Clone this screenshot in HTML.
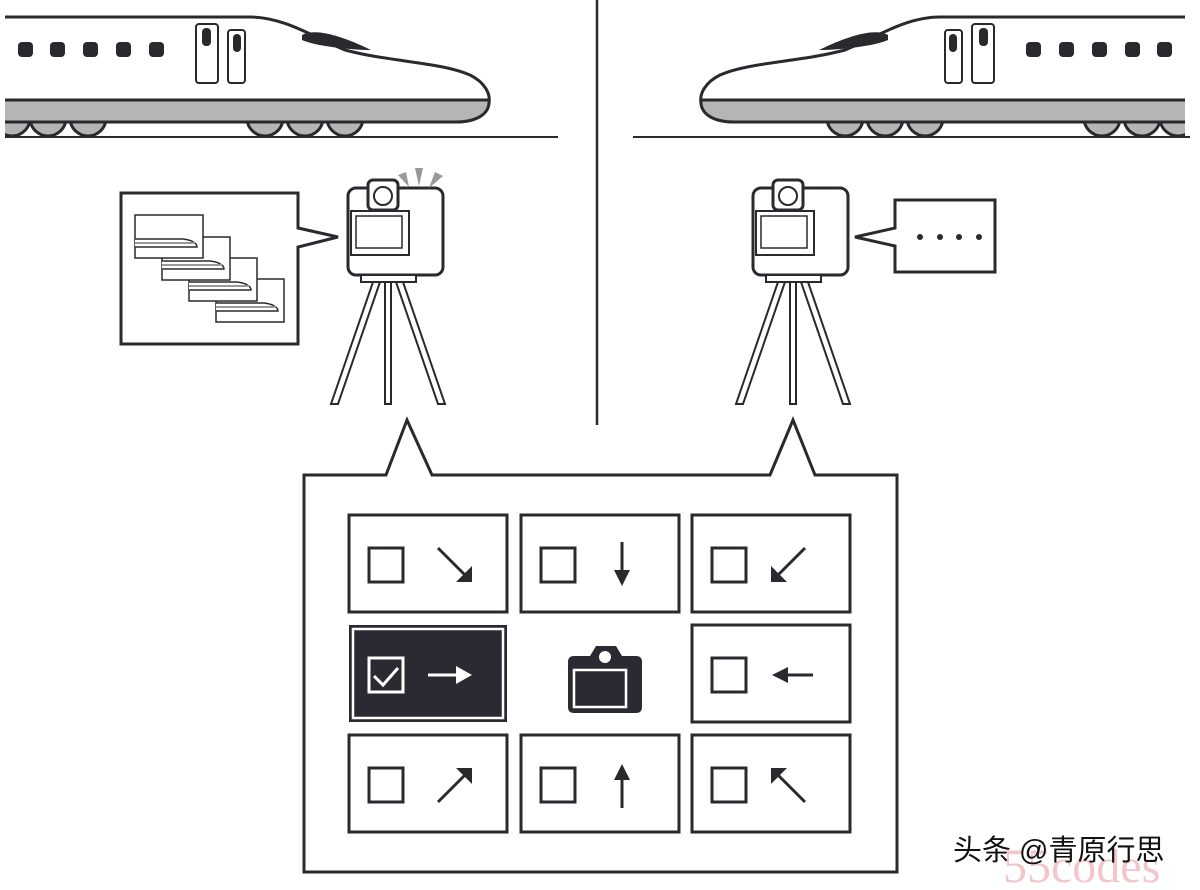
<!DOCTYPE html>
<html><head><meta charset="utf-8"><style>
html,body{margin:0;padding:0;background:#fff;}
svg{display:block;}
</style></head><body>
<svg width="1200" height="890" viewBox="0 0 1200 890" xmlns="http://www.w3.org/2000/svg">
<defs>
<clipPath id="tc"><rect x="5" y="0" width="600" height="150"/></clipPath>
<g id="train" clip-path="url(#tc)">
  <g fill="#b5b5b5" stroke="#2a2a2e" stroke-width="3">
    <circle cx="12" cy="118" r="18"/><circle cx="48" cy="118" r="18"/><circle cx="88" cy="118" r="18"/>
    <circle cx="265" cy="118" r="18"/><circle cx="305" cy="118" r="18"/><circle cx="345" cy="118" r="18"/>
  </g>
  <path d="M-20,17 L250,17 C285,17 315,38 345,50 C390,62 440,62 470,75 C500,90 495,122 455,122 L-20,122 Z" fill="#fff" stroke="#2a2a2e" stroke-width="3"/>
  <path d="M-20,100 L489,100 C490,112 480,122 455,122 L-20,122 Z" fill="#b5b5b5" stroke="#2a2a2e" stroke-width="3"/>
  <path d="M302,35 C315,28 340,35 371,50 C350,50 315,46 302,40 Z" fill="#2a2a2e"/>
  <g fill="#2a2a2e">
    <rect x="18" y="42" width="15" height="15" rx="4"/><rect x="50" y="42" width="15" height="15" rx="4"/>
    <rect x="83" y="42" width="15" height="15" rx="4"/><rect x="116" y="42" width="15" height="15" rx="4"/>
    <rect x="149" y="42" width="15" height="15" rx="4"/>
    <rect x="202" y="28" width="9" height="18" rx="4"/><rect x="233" y="34" width="8" height="18" rx="4"/>
  </g>
  <rect x="196" y="24" width="22" height="59" rx="3" fill="none" stroke="#2a2a2e" stroke-width="2"/>
  <rect x="228" y="30" width="17" height="53" rx="3" fill="none" stroke="#2a2a2e" stroke-width="2"/>
</g>
<g id="cam">
  <rect x="0" y="0" width="95" height="87" rx="8" fill="#fff" stroke="#2a2a2e" stroke-width="3"/>
  <rect x="20" y="-8" width="30" height="30" rx="5" fill="#fff" stroke="#2a2a2e" stroke-width="3"/>
  <circle cx="35" cy="8" r="9" fill="none" stroke="#2a2a2e" stroke-width="2"/>
  <rect x="3" y="23" width="58" height="44" fill="none" stroke="#2a2a2e" stroke-width="2"/>
  <rect x="8" y="28" width="46" height="32" fill="none" stroke="#2a2a2e" stroke-width="1.5"/>
  <rect x="13" y="87" width="55" height="7" fill="#fff" stroke="#2a2a2e" stroke-width="2"/>
</g>
<g id="tripod" fill="#fff" stroke="#2a2a2e" stroke-width="2">
  <polygon points="-15,0 -8,0 -50,122 -57,122"/>
  <polygon points="-3,0 3,0 3,122 -3,122"/>
  <polygon points="8,0 15,0 57,122 50,122"/>
</g>
<g id="mini" stroke="#2a2a2e" fill="#fff">
  <rect x="0" y="0" width="68" height="43" stroke-width="1.5"/>
  <path d="M0,24 L48,24 C58,25 62,29 62,32 L0,32" fill="#fff" stroke-width="1.5"/>
  <line x1="0" y1="28" x2="60" y2="28" stroke="#999" stroke-width="2"/>
</g>
</defs>

<use href="#train"/>
<use href="#train" transform="translate(1190,0) scale(-1,1)"/>
<line x1="5" y1="137" x2="558" y2="137" stroke="#2a2a2e" stroke-width="2"/>
<line x1="633" y1="137" x2="1190" y2="137" stroke="#2a2a2e" stroke-width="2"/>
<line x1="597" y1="0" x2="597" y2="425" stroke="#2a2a2e" stroke-width="2.5"/>

<use href="#tripod" transform="translate(388,282)"/>
<use href="#cam" transform="translate(348,188)"/>
<g fill="#999"><polygon points="398,175 406,172 409,187"/><polygon points="415,168 423,168 419,186"/><polygon points="435,172 443,176 429,188"/></g>
<path d="M121,193 L298,193 L298,228 L338,237 L298,247 L298,344 L121,344 Z" fill="#fff" stroke="#2a2a2e" stroke-width="3"/>
<use href="#mini" transform="translate(216,279)"/>
<use href="#mini" transform="translate(189,258)"/>
<use href="#mini" transform="translate(162,237)"/>
<use href="#mini" transform="translate(135,215)"/>

<use href="#tripod" transform="translate(793,282)"/>
<use href="#cam" transform="translate(753,188)"/>
<path d="M895,200 L995,200 L995,272 L895,272 L895,246 L855,237 L895,228 Z" fill="#fff" stroke="#2a2a2e" stroke-width="3"/>
<g fill="#2a2a2e"><circle cx="920" cy="237" r="3"/><circle cx="940" cy="237" r="3"/><circle cx="959" cy="237" r="3"/><circle cx="979" cy="237" r="3"/></g>

<path d="M304,475 L386,475 L407,420 L432,475 L770,475 L793,420 L815,475 L897,475 L897,872 L304,872 Z" fill="#fff" stroke="#2a2a2e" stroke-width="3"/>

<g fill="none" stroke="#2a2a2e" stroke-width="3">
  <rect x="349" y="515" width="158" height="97"/><rect x="521" y="515" width="158" height="97"/><rect x="692" y="515" width="158" height="97"/>
  <rect x="692" y="625" width="158" height="97"/>
  <rect x="349" y="735" width="158" height="97"/><rect x="521" y="735" width="158" height="97"/><rect x="692" y="735" width="158" height="97"/>
  <rect x="369" y="548" width="34" height="34"/><rect x="541" y="548" width="34" height="34"/><rect x="712" y="548" width="34" height="34"/>
  <rect x="712" y="658" width="34" height="34"/>
  <rect x="369" y="768" width="34" height="34"/><rect x="541" y="768" width="34" height="34"/><rect x="712" y="768" width="34" height="34"/>
</g>
<g stroke="#2a2a2e" stroke-width="3" fill="#2a2a2e">
  <line x1="438" y1="548" x2="466" y2="576"/><polygon points="472,582 472,566 456,582" stroke="none"/>
  <line x1="622" y1="542" x2="622" y2="572"/><polygon points="622,586 614,570 630,570" stroke="none"/>
  <line x1="805" y1="548" x2="777" y2="576"/><polygon points="771,582 787,582 771,566" stroke="none"/>
  <line x1="813" y1="675" x2="785" y2="675"/><polygon points="772,675 788,667 788,683" stroke="none"/>
  <line x1="438" y1="802" x2="466" y2="774"/><polygon points="472,768 456,768 472,784" stroke="none"/>
  <line x1="622" y1="808" x2="622" y2="778"/><polygon points="622,764 614,780 630,780" stroke="none"/>
  <line x1="805" y1="802" x2="777" y2="774"/><polygon points="771,768 771,784 787,768" stroke="none"/>
</g>
<rect x="349" y="625" width="158" height="97" fill="#2a2a33"/>
<rect x="353" y="629" width="150" height="89" fill="none" stroke="#fff" stroke-width="2.5"/>
<rect x="369" y="658" width="34" height="34" fill="none" stroke="#fff" stroke-width="3"/>
<polyline points="374,676 383,685 398,668" fill="none" stroke="#fff" stroke-width="3"/>
<line x1="428" y1="675" x2="458" y2="675" stroke="#fff" stroke-width="3"/>
<polygon points="472,675 456,666 456,684" fill="#fff"/>
<path d="M574,656 L590,656 L596,646 L616,646 L622,656 L636,656 Q642,656 642,662 L642,707 Q642,713 636,713 L574,713 Q568,713 568,707 L568,662 Q568,656 574,656 Z" fill="#2a2a33"/>
<circle cx="605" cy="657" r="6" fill="#fff"/>
<rect x="574" y="670" width="52" height="37" fill="none" stroke="#fff" stroke-width="2.5"/>

<text x="1003" y="882" font-family="Liberation Serif, serif" font-size="48" fill="#f3c6cc">55codes</text>
<text x="953" y="860" font-family="Liberation Sans, 'Noto Sans CJK SC', sans-serif" font-size="29" fill="#111">头条 @青原行思</text>
</svg>
</body></html>
